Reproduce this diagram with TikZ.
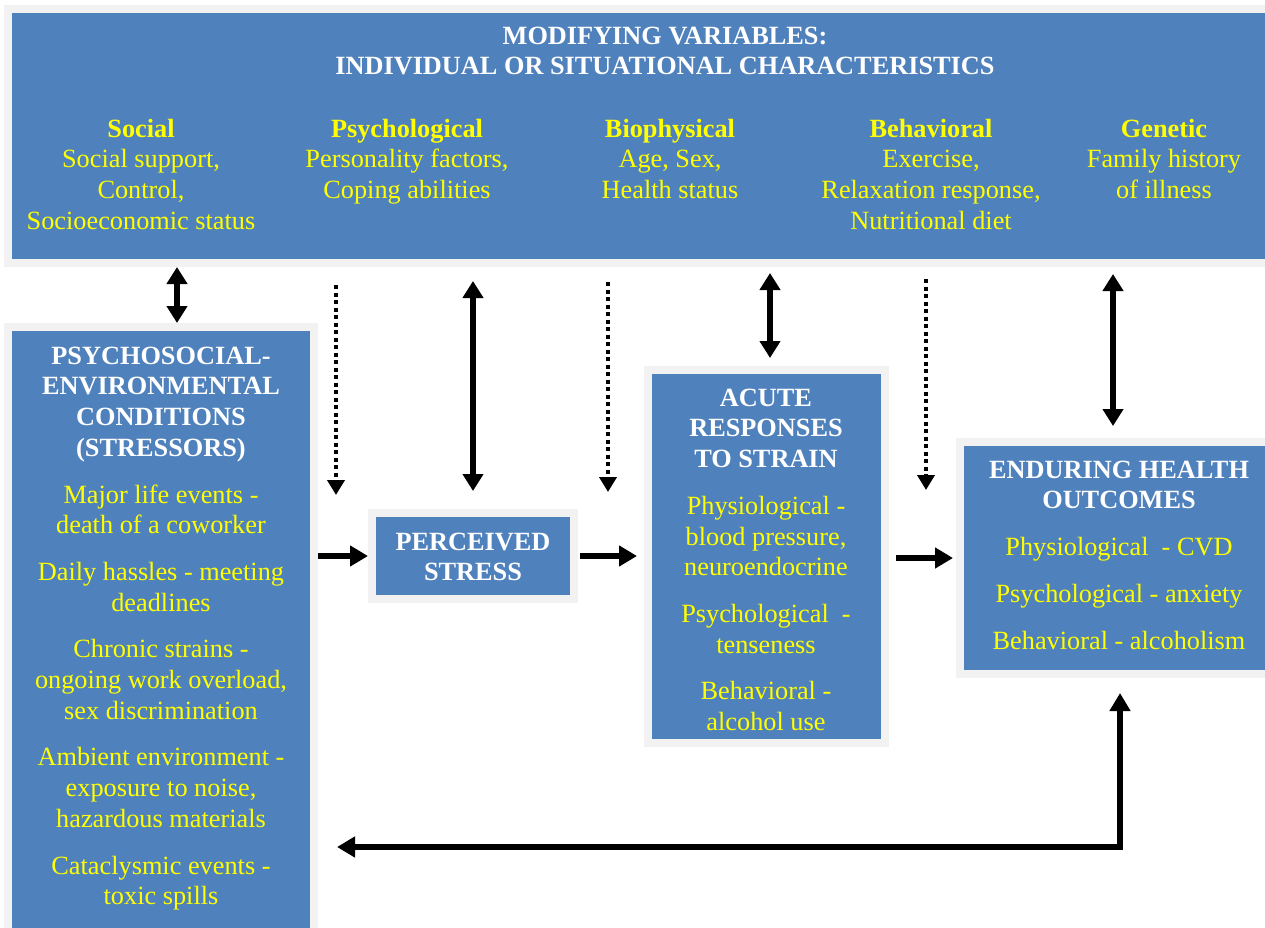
\documentclass[tikz,border=0pt]{standalone}
\usepackage{fontspec}
\setmainfont{Liberation Serif}
\usetikzlibrary{arrows.meta}
\definecolor{boxblue}{HTML}{4F81BD}
\definecolor{framegray}{HTML}{F2F2F2}
\definecolor{txtyellow}{HTML}{FFFF00}
\newcommand{\fl}{\rule{0pt}{20pt}}
\newcommand{\hd}[1]{\textcolor{white}{\bfseries #1}}
\begin{document}
\begin{tikzpicture}[x=1pt,y=-1pt,
 box/.style={draw=framegray, line width=8pt, fill=boxblue, inner sep=0pt},
 txt/.style={inner sep=0pt, align=center, anchor=north, font=\fontsize{26.3}{30.7}\selectfont, text=txtyellow},
 dbl/.style={line width=5.5pt, {Triangle[width=20pt,length=17pt]}-{Triangle[width=20pt,length=17pt]}},
 one/.style={line width=6pt, -{Triangle[width=20pt,length=18pt]}},
 fbk/.style={line width=5.5pt, {Triangle[width=20pt,length=18pt]}-{Triangle[width=20pt,length=18pt]}},
 dot/.style={line width=4pt, dash pattern=on 4pt off 3.5pt, -{Triangle[width=17pt,length=15pt]}},
]
\fill[white] (0,0) rectangle (1265,928);
\useasboundingbox (0,0) rectangle (1265,928);

% boxes
\node[box, minimum width=1267pt, minimum height=254pt] (top) at (641.5,136) {};
\node[box, minimum width=306pt, minimum height=613pt] (psy) at (161,633.5) {};
\node[box, minimum width=202pt, minimum height=86pt] (ps) at (473,556) {};
\node[box, minimum width=237pt, minimum height=373pt] (acute) at (766.5,556.5) {};
\node[box, minimum width=315pt, minimum height=232pt] (end) at (1117.5,558) {};

% texts
\node[txt] (title) at (665,24) {\fl\hd{MODIFYING VARIABLES:}\\\hd{INDIVIDUAL OR SITUATIONAL CHARACTERISTICS}};
\node[txt] (social) at (141,117) {\fl\textbf{Social}\\Social support,\\Control,\\Socioeconomic status};
\node[txt] (psych) at (407,117) {\fl\textbf{Psychological}\\Personality factors,\\Coping abilities};
\node[txt] (bio) at (670,117) {\fl\textbf{Biophysical}\\Age, Sex,\\Health status};
\node[txt] (behav) at (931,117) {\fl\textbf{Behavioral}\\Exercise,\\Relaxation response,\\Nutritional diet};
\node[txt] (gen) at (1164,117) {\fl\textbf{Genetic}\\Family history\\of illness};

\node[txt] (psytxt) at (161,344) {\fl\hd{PSYCHOSOCIAL-}\\\hd{ENVIRONMENTAL}\\\hd{CONDITIONS}\\\hd{(STRESSORS)}\\[16pt]Major life events -\\death of a coworker\\[16pt]Daily hassles - meeting\\deadlines\\[16pt]Chronic strains -\\ongoing work overload,\\sex discrimination\\[16pt]Ambient environment -\\exposure to noise,\\hazardous materials\\[16pt]Cataclysmic events -\\toxic spills};
\node[txt] (pstxt) at (473,530) {\fl\hd{PERCEIVED}\\\hd{STRESS}};
\node[txt] (acutetxt) at (766,386) {\fl\hd{ACUTE}\\\hd{RESPONSES}\\\hd{TO STRAIN}\\[16pt]Physiological -\\blood pressure,\\neuroendocrine\\[16pt]Psychological\ \ -\\tenseness\\[16pt]Behavioral -\\alcohol use};
\node[txt] (endtxt) at (1119,458) {\fl\hd{ENDURING HEALTH}\\\hd{OUTCOMES}\\[16pt]Physiological\ \ - CVD\\[16pt]Psychological - anxiety\\[16pt]Behavioral - alcoholism};

% helper coordinates
\coordinate (x1) at (177,0);
\coordinate (x5) at (770,0);
\coordinate (x7) at (1113,0);
\coordinate (d1) at (336,495);
\coordinate (d2) at (608,492);
\coordinate (d3) at (926,490);
\coordinate (fb) at (1120,847);

% vertical connectors
\draw[dbl] (top.south -| x1) -- (psy.north -| x1);
\draw[dot, shorten <=18pt] (top.south -| d1) -- (d1);
\draw[dbl, shorten <=14pt, shorten >=18pt] (top.south -| ps.north) -- (ps.north);
\draw[dot, shorten <=15pt] (top.south -| d2) -- (d2);
\draw[dbl, shorten <=6pt, shorten >=8pt] (top.south -| x5) -- (acute.north -| x5);
\draw[dot, shorten <=12pt] (top.south -| d3) -- (d3);
\draw[dbl, shorten <=7pt, shorten >=12pt] (top.south -| x7) -- (end.north -| x7);

% horizontal connectors
\draw[one] (psy.east |- ps.west) -- (ps.west);
\draw[one, shorten <=2pt, shorten >=7pt] (ps.east) -- (acute.west |- ps.east);
\draw[one, shorten <=7pt, shorten >=3pt] (acute.east |- end.west) -- (end.west);

% feedback
\draw[fbk, shorten <=19pt, shorten >=15pt] (psy.east |- fb) -| (end.south -| fb);
\end{tikzpicture}
\end{document}
